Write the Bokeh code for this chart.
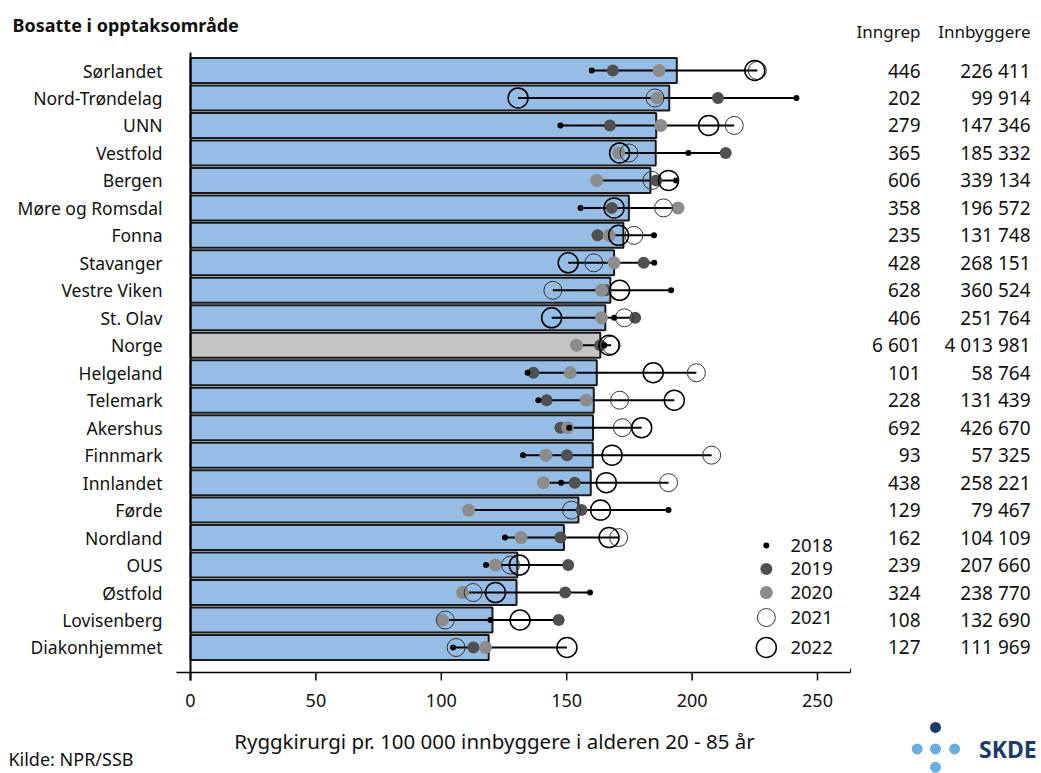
import numpy as np
from bokeh.plotting import figure
from bokeh.models import ColumnDataSource, Range1d
from bokeh.core.properties import value
from bokeh.embed import file_html
from bokeh.resources import INLINE

# ---------------- data ----------------
regions = ["Sørlandet", "Nord-Trøndelag", "UNN", "Vestfold", "Bergen", "Møre og Romsdal",
           "Fonna", "Stavanger", "Vestre Viken", "St. Olav", "Norge", "Helgeland",
           "Telemark", "Akershus", "Finnmark", "Innlandet", "Førde", "Nordland",
           "OUS", "Østfold", "Lovisenberg", "Diakonhjemmet"]
rate_mean = [193.9, 190.9, 185.7, 185.5, 183.4, 174.8, 172.6, 168.9, 167.4, 165.4, 163.4,
             162.0, 160.8, 160.5, 160.4, 159.6, 154.7, 148.9, 130.3, 130.0, 120.4, 118.9]
rate_2018 = [160.0, 241.6, 147.5, 198.5, 193.6, 155.5, 184.8, 184.9, 191.6, 168.9, 165.0,
             134.4, 138.7, 151.0, 132.6, 147.8, 190.6, 125.4, 117.8, 159.3, 119.6, 104.7]
rate_2019 = [168.4, 210.3, 167.2, 213.4, 185.7, 168.0, 162.3, 180.7, 165.5, 177.3, 163.4,
             136.7, 142.0, 147.5, 150.1, 153.2, 155.9, 147.5, 150.6, 149.4, 146.8, 112.8]
rate_2020 = [186.8, 186.0, 187.5, 170.7, 162.0, 194.4, 166.9, 168.9, 163.9, 163.9, 153.9,
             151.4, 157.8, 150.4, 141.7, 140.7, 110.9, 131.8, 121.6, 108.5, 100.5, 117.6]
rate_2021 = [226.0, 185.2, 216.8, 174.8, 184.0, 188.6, 176.8, 160.8, 144.5, 173.0, 167.7,
             201.7, 171.1, 172.2, 207.8, 190.6, 151.9, 170.7, 127.6, 112.7, 101.6, 105.9]
rate_2022 = [225.0, 130.6, 206.6, 171.1, 190.6, 168.9, 170.7, 150.6, 171.1, 144.0, 166.9,
             184.5, 192.9, 179.9, 168.1, 165.8, 163.5, 166.9, 131.1, 121.6, 131.4, 150.1]
inngrep = [446, 202, 279, 365, 606, 358, 235, 428, 628, 406, 6601, 101, 228, 692, 93, 438,
           129, 162, 239, 324, 108, 127]
innbyggere = [226411, 99914, 147346, 185332, 339134, 196572, 131748, 268151, 360524, 251764,
              4013981, 58764, 131439, 426670, 57325, 258221, 79467, 104109, 207660, 238770,
              132690, 111969]
x_ticks = [0, 50, 100, 150, 200, 250]
years = ["2018", "2019", "2020", "2021", "2022"]

# ---------------- layout constants ----------------
FONT = value("Noto Sans")
BAR_BLUE = "#96bde6"
BAR_GREY = "#c4c4c4"
W, H = 1041, 773
PX_X = 2.508      # pixels per x unit
PX_Y = 27.476     # pixels per row
X0_PX, Y0_PX = 190, 70


def fmt(v):
    return f"{v:,}".replace(",", " ")


idx = list(range(len(regions)))
yrs = np.array([rate_2018, rate_2019, rate_2020, rate_2021, rate_2022])
src = ColumnDataSource(dict(
    y=idx, region=regions, mean=rate_mean,
    r18=rate_2018, r19=rate_2019, r20=rate_2020, r21=rate_2021, r22=rate_2022,
    lo=yrs.min(axis=0).tolist(), hi=yrs.max(axis=0).tolist(),
    color=[BAR_GREY if r == "Norge" else BAR_BLUE for r in regions],
    inn=[fmt(v) for v in inngrep], bef=[fmt(v) for v in innbyggere],
))

p = figure(width=W, height=H, output_backend="svg", toolbar_location=None,
           x_range=Range1d(-X0_PX / PX_X, (W - X0_PX) / PX_X),
           y_range=Range1d((H - Y0_PX) / PX_Y, -Y0_PX / PX_Y),
           x_axis_type=None, y_axis_type=None, min_border=0)
p.outline_line_color = None
p.xgrid.visible = False
p.ygrid.visible = False
p.background_fill_color = "white"

# bars
p.hbar(y="y", left=0, right="mean", height=0.91, fill_color="color",
       line_color="#1a1a1a", line_width=2, source=src)

# range line
p.segment(x0="lo", y0="y", x1="hi", y1="y", line_color="black", line_width=2, source=src)

# yearly points
p.scatter(x="r19", y="y", size=12, fill_color="#505050", line_color=None, source=src)
p.scatter(x="r20", y="y", size=13, fill_color="#8c8c8c", line_color=None, source=src)
p.scatter(x="r21", y="y", size=18, fill_color=None, line_color="#333333", line_width=1, source=src)
p.scatter(x="r22", y="y", size=20, fill_color=None, line_color="black", line_width=1.5, source=src)
p.scatter(x="r18", y="y", size=6, fill_color="black", line_color=None, source=src)

# axes (drawn through the scales)
p.segment(x0=[0], y0=[-0.655], x1=[0], y1=[22.2], line_color="black", line_width=2)
p.segment(x0=[-5.58], y0=[21.91], x1=[263.2], y1=[21.91], line_color="black", line_width=1.5)
p.segment(x0=[263.2], y0=[21.77], x1=[263.2], y1=[21.91], line_color="black", line_width=1)
p.segment(x0=x_ticks, y0=[21.91] * len(x_ticks), x1=x_ticks, y1=[22.2] * len(x_ticks),
          line_color="black", line_width=1.5)
p.text(x=x_ticks, y=[22.93] * len(x_ticks), text=[str(t) for t in x_ticks],
       text_font=FONT, text_font_size="18px", text_align="center",
       text_baseline="middle", text_color="#111111")

# category labels
p.text(x=-11.16, y="y", text="region", source=src, text_font=FONT, text_font_size="17.5px",
       text_align="right", text_baseline="middle", text_color="#111111")

# number columns
p.text(x=291.07, y="y", text="inn", source=src, text_font=FONT, text_font_size="19px",
       text_align="right", text_baseline="middle", text_color="#111111")
p.text(x=334.93, y="y", text="bef", source=src, text_font=FONT, text_font_size="19px",
       text_align="right", text_baseline="middle", text_color="#111111")
p.text(x=[291.07, 334.93], y=[-1.43, -1.43], text=["Inngrep", "Innbyggere"],
       text_font=FONT, text_font_size="17px", text_align="right",
       text_baseline="middle", text_color="#111111")

# title, axis title, source
p.text(x=[-70.97], y=[-1.674], text=["Bosatte i opptaksområde"], text_font=FONT,
       text_font_size="18px", text_font_style="bold", text_align="left",
       text_baseline="middle", text_color="#111111")
p.text(x=[121.2], y=[24.385], text=["Ryggkirurgi pr. 100 000 innbyggere i alderen 20 - 85 år"],
       text_font=FONT, text_font_size="20.5px", text_align="center",
       text_baseline="middle", text_color="#111111")
p.text(x=[-72.6], y=[25.07], text=["Kilde: NPR/SSB"], text_font=FONT,
       text_font_size="18px", text_align="left", text_baseline="middle", text_color="#111111")

# legend (manual, to keep the marker sizes)
lx = 229.6
ly = [17.29, 18.14, 19.0, 19.91, 21.0]
p.scatter(x=[lx], y=[ly[0]], size=6, fill_color="black", line_color=None)
p.scatter(x=[lx], y=[ly[1]], size=12, fill_color="#505050", line_color=None)
p.scatter(x=[lx], y=[ly[2]], size=13, fill_color="#8c8c8c", line_color=None)
p.scatter(x=[lx], y=[ly[3]], size=18, fill_color=None, line_color="#333333", line_width=1)
p.scatter(x=[lx], y=[ly[4]], size=20, fill_color=None, line_color="black", line_width=1.5)
p.text(x=[239.2] * 5, y=ly, text=years, text_font=FONT, text_font_size="18.5px",
       text_align="left", text_baseline="middle", text_color="#111111")

# SKDE logo
p.scatter(x=[297.05], y=[23.91], size=11, fill_color="#1b3a6b", line_color=None)
p.scatter(x=[289.75, 297.05, 304.67, 297.05], y=[24.69, 24.69, 24.69, 25.36], size=11,
          fill_color="#6aaee0", line_color=None)
p.text(x=[314.4], y=[24.68], text=["SKDE"], text_font=FONT, text_font_size="23px",
       text_font_style="bold", text_align="left", text_baseline="middle", text_color="#1b3a6b")

open("out.html", "w").write(file_html(p, INLINE))
